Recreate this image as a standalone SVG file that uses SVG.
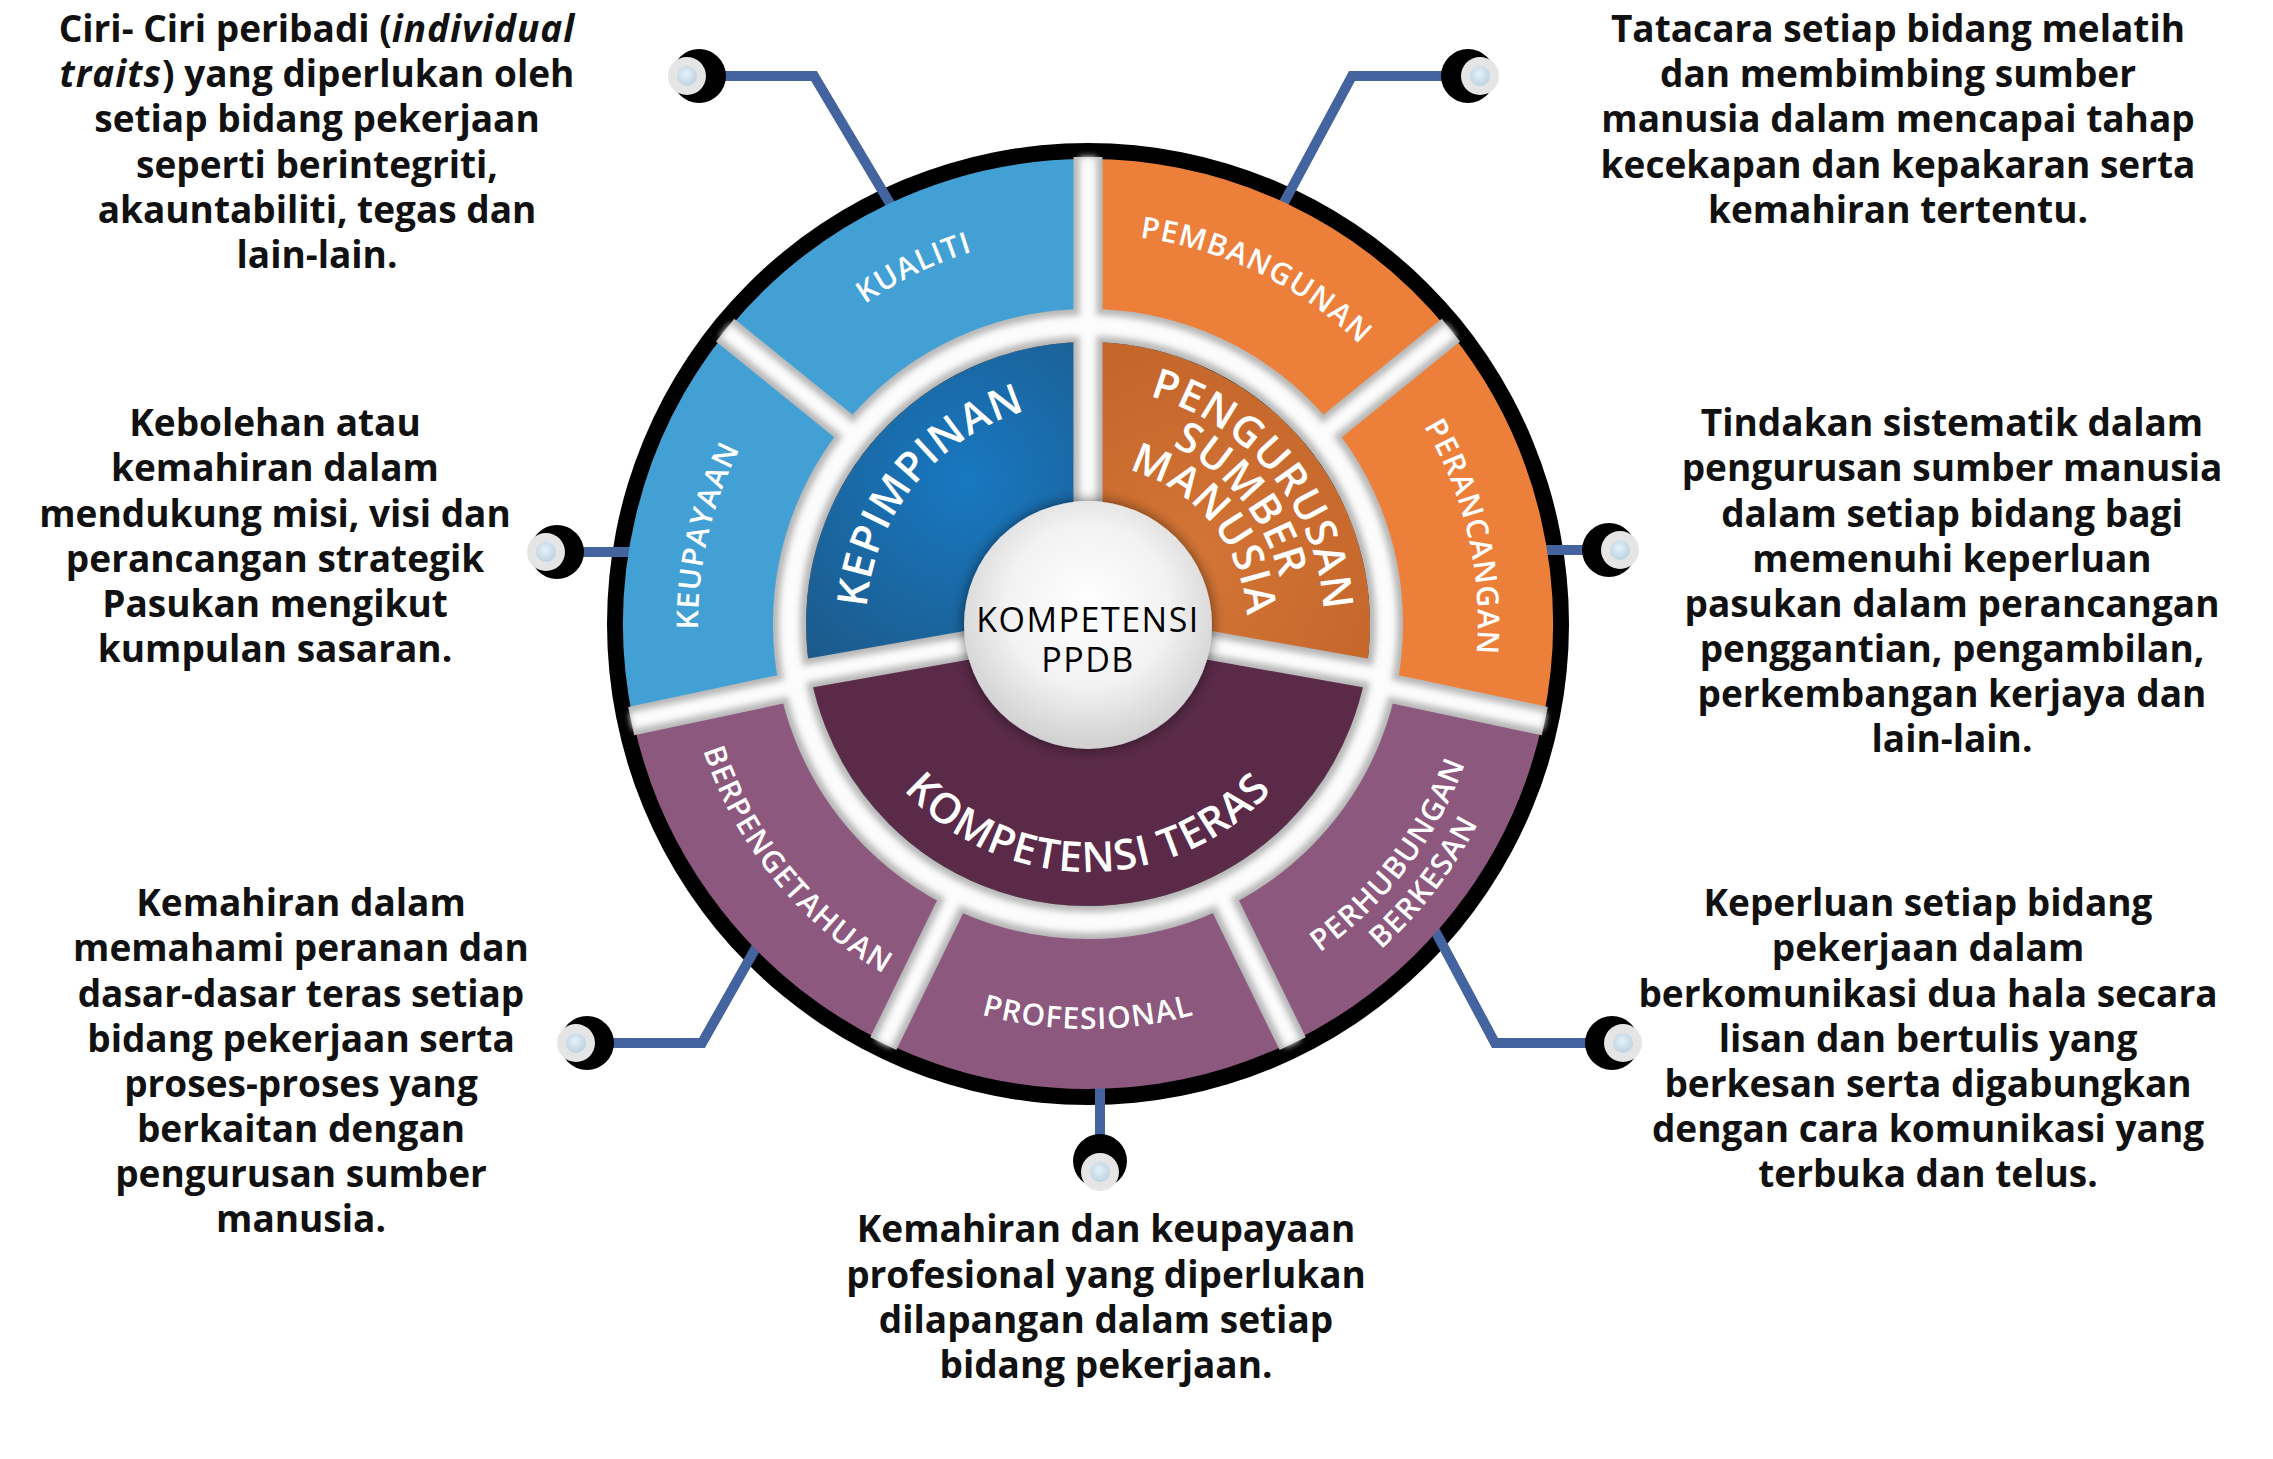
<svg xmlns="http://www.w3.org/2000/svg" width="2273" height="1459" viewBox="0 0 2273 1459">
<style>
.body{font-family:"Open Sans","Liberation Sans",sans-serif;font-size:37px;font-weight:700;fill:#111;text-anchor:middle}
.lbl{font-family:"Open Sans","Liberation Sans",sans-serif;fill:#fff;font-weight:600;text-anchor:middle}
.olbl{font-size:30px;letter-spacing:1.2px}
.ilbl{font-size:42px;letter-spacing:1px}
.oseg{fill:none;stroke-width:165}
.iseg{fill:none;stroke-width:172}
.conn{fill:none;stroke:#44649f;stroke-width:10;stroke-linejoin:miter}
.gapg{fill:none;stroke:#b7b7b7}
.gapw{fill:none;stroke:#fcfcfc}
</style>
<defs>
<radialGradient id="gKep" gradientUnits="userSpaceOnUse" cx="965" cy="480" r="230">
<stop offset="0" stop-color="#1878c1"/><stop offset="1" stop-color="#1c5a8b"/>
</radialGradient>
<radialGradient id="gPsm" gradientUnits="userSpaceOnUse" cx="1190" cy="560" r="220">
<stop offset="0" stop-color="#d37536"/><stop offset="1" stop-color="#c4662a"/>
</radialGradient>
<radialGradient id="gCen" cx="50%" cy="42%" r="60%">
<stop offset="0" stop-color="#ffffff"/><stop offset="0.55" stop-color="#f2f2f2"/><stop offset="1" stop-color="#cdcdcd"/>
</radialGradient>
<radialGradient id="gDot" cx="45%" cy="40%" r="60%">
<stop offset="0" stop-color="#e6f2fa"/><stop offset="1" stop-color="#bcd2e2"/>
</radialGradient>
<filter id="soft" x="-20%" y="-20%" width="140%" height="140%"><feGaussianBlur stdDeviation="3"/></filter>
<filter id="shadow" x="-30%" y="-30%" width="160%" height="160%">
<feGaussianBlur in="SourceAlpha" stdDeviation="7"/>
<feComponentTransfer><feFuncA type="linear" slope="0.55"/></feComponentTransfer>
<feMerge><feMergeNode/><feMergeNode in="SourceGraphic"/></feMerge>
</filter>
<path id="pKual" d="M 717.91 730.12 A 384 384 0 0 1 1399.47 397.70"/>
<path id="pPemb" d="M 776.53 397.70 A 384 384 0 0 1 1458.09 730.12"/>
<path id="pKeup" d="M 937.57 978.39 A 384 384 0 0 1 1108.15 239.53"/>
<path id="pPera" d="M 1067.85 239.53 A 384 384 0 0 1 1238.43 978.39"/>
<path id="pKepi" d="M 920.45 769.65 A 222 222 0 0 1 1195.63 429.83"/>
<path id="pPeng" d="M 973.58 417.59 A 236 236 0 0 1 1266.11 778.83"/>
<path id="pSumb" d="M 992.49 451.70 A 197 197 0 0 1 1236.68 753.24"/>
<path id="pManu" d="M 1010.92 484.94 A 159 159 0 0 1 1208.00 728.31"/>
<path id="pBerp" d="M 782.34 358.30 A 405 405 0 0 0 1284.35 978.22"/>
<path id="pProf" d="M 689.15 694.33 A 405 405 0 0 0 1486.85 694.33"/>
<path id="pPerh" d="M 902.38 980.58 A 402 402 0 0 0 1384.39 352.41"/>
<path id="pBerk" d="M 885.75 1012.51 A 438 438 0 0 0 1410.93 328.09"/>
<path id="pTera" d="M 843.77 667.07 A 248 248 0 0 0 1332.23 667.07"/>
</defs>
<rect x="0" y="0" width="2273" height="1459" fill="#ffffff"/>

<g id="text-kualiti">
<text class="body" x="317" y="42">Ciri- Ciri peribadi (<tspan font-style="italic" letter-spacing="1">individual</tspan></text>
<text class="body" x="317" y="87"><tspan font-style="italic" letter-spacing="1">traits</tspan>) yang diperlukan oleh</text>
<text class="body" x="317" y="132">setiap bidang pekerjaan</text>
<text class="body" x="317" y="178">seperti berintegriti,</text>
<text class="body" x="317" y="223">akauntabiliti, tegas dan</text>
<text class="body" x="317" y="268">lain-lain.</text>
</g>
<g id="text-pembangunan">
<text class="body" x="1898" y="42">Tatacara setiap bidang melatih</text>
<text class="body" x="1898" y="87">dan membimbing sumber</text>
<text class="body" x="1898" y="132">manusia dalam mencapai tahap</text>
<text class="body" x="1898" y="178">kecekapan dan kepakaran serta</text>
<text class="body" x="1898" y="223">kemahiran tertentu.</text>
</g>
<g id="text-keupayaan">
<text class="body" x="275" y="436">Kebolehan atau</text>
<text class="body" x="275" y="481">kemahiran dalam</text>
<text class="body" x="275" y="527">mendukung misi, visi dan</text>
<text class="body" x="275" y="572">perancangan strategik</text>
<text class="body" x="275" y="617">Pasukan mengikut</text>
<text class="body" x="275" y="662">kumpulan sasaran.</text>
</g>
<g id="text-perancangan">
<text class="body" x="1952" y="436">Tindakan sistematik dalam</text>
<text class="body" x="1952" y="481">pengurusan sumber manusia</text>
<text class="body" x="1952" y="527">dalam setiap bidang bagi</text>
<text class="body" x="1952" y="572">memenuhi keperluan</text>
<text class="body" x="1952" y="617">pasukan dalam perancangan</text>
<text class="body" x="1952" y="662">penggantian, pengambilan,</text>
<text class="body" x="1952" y="707">perkembangan kerjaya dan</text>
<text class="body" x="1952" y="752">lain-lain.</text>
</g>
<g id="text-berpengetahuan">
<text class="body" x="301" y="916">Kemahiran dalam</text>
<text class="body" x="301" y="961">memahami peranan dan</text>
<text class="body" x="301" y="1007">dasar-dasar teras setiap</text>
<text class="body" x="301" y="1052">bidang pekerjaan serta</text>
<text class="body" x="301" y="1097">proses-proses yang</text>
<text class="body" x="301" y="1142">berkaitan dengan</text>
<text class="body" x="301" y="1187">pengurusan sumber</text>
<text class="body" x="301" y="1232">manusia.</text>
</g>
<g id="text-perhubungan">
<text class="body" x="1928" y="916">Keperluan setiap bidang</text>
<text class="body" x="1928" y="961">pekerjaan dalam</text>
<text class="body" x="1928" y="1007">berkomunikasi dua hala secara</text>
<text class="body" x="1928" y="1052">lisan dan bertulis yang</text>
<text class="body" x="1928" y="1097">berkesan serta digabungkan</text>
<text class="body" x="1928" y="1142">dengan cara komunikasi yang</text>
<text class="body" x="1928" y="1187">terbuka dan telus.</text>
</g>
<g id="text-profesional">
<text class="body" x="1106" y="1242">Kemahiran dan keupayaan</text>
<text class="body" x="1106" y="1288">profesional yang diperlukan</text>
<text class="body" x="1106" y="1333">dilapangan dalam setiap</text>
<text class="body" x="1106" y="1378">bidang pekerjaan.</text>
</g>

<g id="wheel-border"><circle cx="1088" cy="624" r="481" fill="#000"/></g>

<g id="connectors">
<path class="conn" d="M 895 212 L 814 76 L 700 76"/>
<path class="conn" d="M 1280 210 L 1352 76 L 1468 76"/>
<path class="conn" d="M 640 552 L 557 552"/>
<path class="conn" d="M 1540 550 L 1609 550"/>
<path class="conn" d="M 758 944 L 702 1043 L 587 1043"/>
<path class="conn" d="M 1432 925 L 1495 1043 L 1612 1043"/>
<path class="conn" d="M 1100 1080 L 1100 1161"/>
<g id="dot-tl"><circle cx="699" cy="76" r="27" fill="#000"/><circle cx="687" cy="76" r="19" fill="#e5e5e5"/><circle cx="687" cy="76" r="10" fill="url(#gDot)"/></g>
<g id="dot-tr"><circle cx="1468" cy="76" r="27" fill="#000"/><circle cx="1480" cy="76" r="19" fill="#e5e5e5"/><circle cx="1480" cy="76" r="10" fill="url(#gDot)"/></g>
<g id="dot-l"><circle cx="557" cy="552" r="27" fill="#000"/><circle cx="546" cy="552" r="19" fill="#e5e5e5"/><circle cx="546" cy="552" r="10" fill="url(#gDot)"/></g>
<g id="dot-r"><circle cx="1609" cy="550" r="27" fill="#000"/><circle cx="1620" cy="550" r="19" fill="#e5e5e5"/><circle cx="1620" cy="550" r="10" fill="url(#gDot)"/></g>
<g id="dot-bl"><circle cx="587" cy="1043" r="27" fill="#000"/><circle cx="576" cy="1043" r="19" fill="#e5e5e5"/><circle cx="576" cy="1043" r="10" fill="url(#gDot)"/></g>
<g id="dot-br"><circle cx="1612" cy="1043" r="27" fill="#000"/><circle cx="1623" cy="1043" r="19" fill="#e5e5e5"/><circle cx="1623" cy="1043" r="10" fill="url(#gDot)"/></g>
<g id="dot-b"><circle cx="1100" cy="1161" r="27" fill="#000"/><circle cx="1100" cy="1172" r="19" fill="#e5e5e5"/><circle cx="1100" cy="1172" r="10" fill="url(#gDot)"/></g>
</g>

<g id="seg-perancangan"><path class="oseg" stroke="#ec803a" d="M 1462.14 703.53 A 382.5 382.5 0 0 0 1385.26 383.29"/>
<text class="lbl olbl"><textPath href="#pPera" startOffset="50%">PERANCANGAN</textPath></text></g>
<g id="seg-pembangunan"><path class="oseg" stroke="#ec803a" d="M 1385.26 383.29 A 382.5 382.5 0 0 0 1088 241.5"/>
<text class="lbl olbl"><textPath href="#pPemb" startOffset="50%">PEMBANGUNAN</textPath></text></g>
<g id="seg-kualiti"><path class="oseg" stroke="#42a0d4" d="M 1088 241.5 A 382.5 382.5 0 0 0 790.74 383.29"/>
<text class="lbl olbl"><textPath href="#pKual" startOffset="50%">KUALITI</textPath></text></g>
<g id="seg-keupayaan"><path class="oseg" stroke="#42a0d4" d="M 790.74 383.29 A 382.5 382.5 0 0 0 713.86 703.53"/>
<text class="lbl olbl"><textPath href="#pKeup" startOffset="50%">KEUPAYAAN</textPath></text></g>
<g id="seg-berpengetahuan"><path class="oseg" stroke="#8c587e" d="M 713.86 703.53 A 382.5 382.5 0 0 0 920.32 967.79"/>
<text class="lbl olbl"><textPath href="#pBerp" startOffset="50%">BERPENGETAHUAN</textPath></text></g>
<g id="seg-profesional"><path class="oseg" stroke="#8c587e" d="M 920.32 967.79 A 382.5 382.5 0 0 0 1255.68 967.79"/>
<text class="lbl olbl"><textPath href="#pProf" startOffset="50%">PROFESIONAL</textPath></text></g>
<g id="seg-perhubungan"><path class="oseg" stroke="#8c587e" d="M 1255.68 967.79 A 382.5 382.5 0 0 0 1462.14 703.53"/>
<text class="lbl olbl"><textPath href="#pPerh" startOffset="50%">PERHUBUNGAN</textPath></text>
<text class="lbl olbl"><textPath href="#pBerk" startOffset="50%">BERKESAN</textPath></text></g>

<g id="seg-kepimpinan"><path class="iseg" stroke="url(#gKep)" d="M 1088 428 A 196 196 0 0 0 894.98 658.04"/>
<text class="lbl ilbl"><textPath href="#pKepi" startOffset="50%">KEPIMPINAN</textPath></text></g>
<g id="seg-teras"><path class="iseg" stroke="#5a2a48" d="M 894.98 658.04 A 196 196 0 0 0 1281.02 658.04"/>
<text class="lbl ilbl"><textPath href="#pTera" startOffset="50%">KOMPETENSI TERAS</textPath></text></g>
<g id="seg-psm"><path class="iseg" stroke="url(#gPsm)" d="M 1281.02 658.04 A 196 196 0 0 0 1088 428"/>
<text class="lbl ilbl"><textPath href="#pPeng" startOffset="50%">PENGURUSAN</textPath></text>
<text class="lbl ilbl"><textPath href="#pSumb" startOffset="50%">SUMBER</textPath></text>
<text class="lbl ilbl"><textPath href="#pManu" startOffset="50%">MANUSIA</textPath></text></g>

<g id="gaps">
<g class="gapg">
<circle cx="1088" cy="624" r="298.5" stroke-width="33"/>
<path stroke-width="29" d="M 1321.15 435.20 L 1450.93 330.11 M 1088 324 L 1088 157 M 854.85 435.20 L 725.07 330.11 M 794.55 686.37 L 631.20 721.09 M 956.49 893.64 L 883.28 1043.73 M 1219.51 893.64 L 1292.72 1043.73 M 1381.45 686.37 L 1544.80 721.09 M 1088 504 L 1088 324 M 969.82 644.84 L 792.56 676.10 M 1206.18 644.84 L 1383.44 676.10"/>
</g>
<g class="gapw" filter="url(#soft)">
<circle cx="1088" cy="624" r="298.5" stroke-width="21"/>
<path stroke-width="17" d="M 1321.15 435.20 L 1450.93 330.11 M 1088 324 L 1088 157 M 854.85 435.20 L 725.07 330.11 M 794.55 686.37 L 631.20 721.09 M 956.49 893.64 L 883.28 1043.73 M 1219.51 893.64 L 1292.72 1043.73 M 1381.45 686.37 L 1544.80 721.09 M 1088 504 L 1088 324 M 969.82 644.84 L 792.56 676.10 M 1206.18 644.84 L 1383.44 676.10"/>
</g>
</g>

<g id="center">
<circle cx="1088" cy="625" r="124" fill="url(#gCen)" filter="url(#shadow)"/>
<text x="1088" y="632" font-family="'Open Sans','Liberation Sans',sans-serif" font-size="34" font-weight="500" letter-spacing="1.5" text-anchor="middle" fill="#000">KOMPETENSI</text>
<text x="1088" y="672" font-family="'Open Sans','Liberation Sans',sans-serif" font-size="34" font-weight="500" letter-spacing="1.5" text-anchor="middle" fill="#000">PPDB</text>
</g>
</svg>
